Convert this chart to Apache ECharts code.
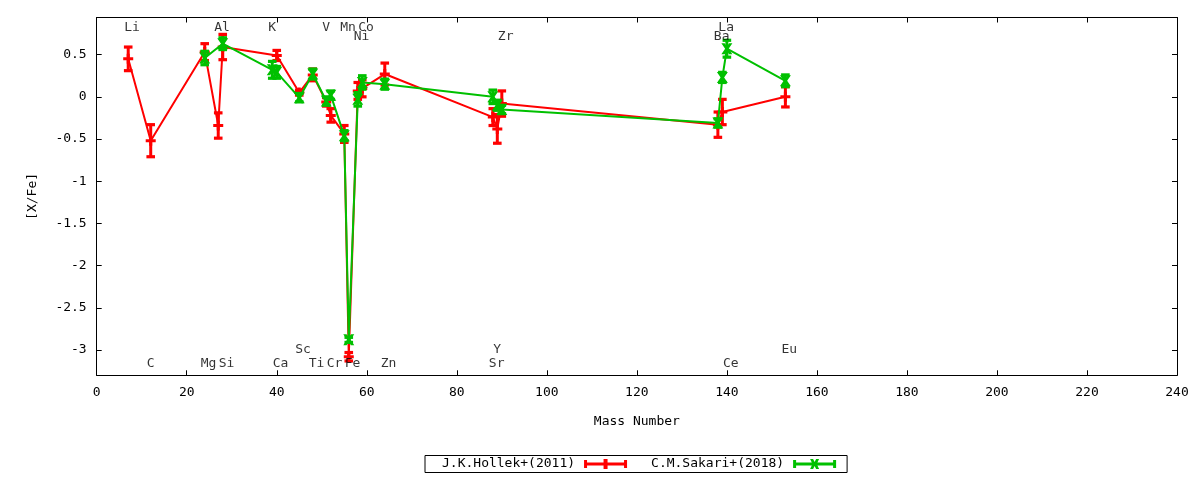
<!DOCTYPE html>
<html>
<head>
<meta charset="utf-8">
<script src="https://cdn.jsdelivr.net/npm/echarts@6/dist/echarts.min.js"></script>
<style>html,body{margin:0;padding:0;background:#fff}#c{width:1200px;height:480px}</style>
</head>
<body>
<div id="c"></div>
<script>
// ---- data ----
const hollekName = 'J.K.Hollek+(2011)';
const hollekMass = [7, 12, 24, 27, 28, 40, 45, 48, 51, 52, 55, 56, 58, 59, 64, 88, 89, 90, 138, 139, 153];
const hollekXFe  = [0.45, -0.52, 0.53, -0.34, 0.59, 0.49, 0.05, 0.26, -0.06, -0.22, -0.44, -3.08, 0.07, 0.10, 0.27, -0.24, -0.38, -0.08, -0.33, -0.18, 0.00];
const hollekErr  = [0.14, 0.19, 0.10, 0.15, 0.15, 0.06, 0.03, 0.07, 0.05, 0.08, 0.10, 0.05, 0.10, 0.10, 0.13, 0.10, 0.17, 0.15, 0.15, 0.15, 0.12];

const sakariName = 'C.M.Sakari+(2018)';
const sakariMass = [24, 28, 39, 40, 45, 48, 51, 52, 55, 56, 58, 59, 64, 88, 89, 90, 138, 139, 140, 153];
const sakariXFe  = [0.46, 0.63, 0.32, 0.29, -0.01, 0.27, -0.05, 0.02, -0.46, -2.88, -0.03, 0.17, 0.15, 0.00, -0.10, -0.15, -0.31, 0.23, 0.57, 0.19];
const sakariErr  = [0.08, 0.07, 0.10, 0.07, 0.05, 0.06, 0.05, 0.05, 0.06, 0.03, 0.08, 0.08, 0.06, 0.08, 0.06, 0.05, 0.05, 0.06, 0.10, 0.07];

const elementNames  = ['Li', 'C', 'Mg', 'Al', 'Si', 'K', 'Ca', 'Sc', 'Ti', 'V', 'Cr', 'Mn', 'Fe', 'Ni', 'Co', 'Zn', 'Sr', 'Y', 'Zr', 'Ba', 'La', 'Ce', 'Eu'];
const elementMass   = [7, 12, 24, 27, 28, 39, 40, 45, 48, 51, 52, 55, 56, 58, 59, 64, 88, 89, 90, 138, 139, 140, 153];
const elementLabelY = [0.82, -3.165, -3.165, 0.82, -3.165, 0.82, -3.165, -3.0, -3.165, 0.82, -3.165, 0.82, -3.165, 0.71, 0.82, -3.165, -3.165, -3.0, 0.71, 0.71, 0.82, -3.165, -3.0];

const xTicks = [0, 20, 40, 60, 80, 100, 120, 140, 160, 180, 200, 220, 240];
const yTicks = [0.5, 0, -0.5, -1, -1.5, -2, -2.5, -3];

// ---- styling ----
const FONT = '"DejaVu Sans Mono", monospace';
const RED = '#ff0000';
const GREEN = '#00c000';
const PLUS = 'path://M3.5,0h3v3.5h3.5v3h-3.5v3.5h-3v-3.5h-3.5v-3h3.5z';
const CROSS = 'path://M0,0L3,0L5,3L7,0L10,0L6.6,5L10,10L7,10L5,7L3,10L0,10L3.4,5Z';
const ICON_RED = 'path://M0,1h3v8h-3z M3,3.5h37v3h-37z M40,1h3v8h-3z M19.5,0h4v10h-4z';
const ICON_GREEN = 'path://M0,1h3v8h-3z M3,3.5h37v3h-37z M40,1h3v8h-3z M17,0L20,0L21.5,3L23,0L26,0L23.6,5L26,10L23,10L21.5,7L20,10L17,10L19.4,5Z';

function errRender(params, api) {
  const x = api.value(0), y = api.value(1), e = api.value(2);
  const lo = api.coord([x, y - e]);
  const hi = api.coord([x, y + e]);
  const c = api.visual('color');
  const w = 4.3;
  return {
    type: 'group',
    children: [
      { type: 'line', shape: { x1: lo[0], y1: lo[1], x2: hi[0], y2: hi[1] }, style: { stroke: c, lineWidth: 3 } },
      { type: 'line', shape: { x1: lo[0] - w, y1: lo[1], x2: lo[0] + w, y2: lo[1] }, style: { stroke: c, lineWidth: 3.2 } },
      { type: 'line', shape: { x1: hi[0] - w, y1: hi[1], x2: hi[0] + w, y2: hi[1] }, style: { stroke: c, lineWidth: 3.2 } }
    ]
  };
}

const axisText = { fontFamily: FONT, fontSize: 13, color: '#000' };
const axisLine = { show: true, onZero: false, lineStyle: { color: '#000', width: 1 } };
const tickStyle = (vals) => ({ show: true, inside: true, length: 5, lineStyle: { color: '#000' }, customValues: vals });

const chart = echarts.init(document.getElementById('c'), null, { renderer: 'canvas' });
chart.setOption({
  animation: false,
  backgroundColor: '#fff',
  grid: { left: 96.7, right: 23, top: 17.5, bottom: 104.7, containLabel: false },
  legend: {
    data: [{ name: hollekName, icon: ICON_RED }, { name: sakariName, icon: ICON_GREEN }],
    left: 425, top: 455.5,
    align: 'right',
    itemWidth: 43, itemHeight: 10, itemGap: 24,
    borderColor: '#000', borderWidth: 1, borderRadius: 0,
    padding: [2, 11, 2, 17],
    itemStyle: { borderWidth: 0 },
    textStyle: { fontFamily: FONT, fontSize: 13, color: '#000', padding: [0, 4, 0, 0] },
    selectedMode: false
  },
  xAxis: [{
    type: 'value', min: 0, max: 240, interval: 20,
    name: 'Mass Number', nameLocation: 'middle', nameGap: 40,
    nameTextStyle: axisText,
    axisLine: axisLine,
    axisTick: tickStyle(xTicks),
    axisLabel: { ...axisText, margin: 11, customValues: xTicks },
    splitLine: { show: false }
  }, {
    type: 'value', min: 0, max: 240, interval: 20, position: 'top',
    axisLine: axisLine,
    axisTick: tickStyle(xTicks),
    axisLabel: { show: false },
    splitLine: { show: false }
  }],
  yAxis: [{
    type: 'value', min: -3.3, max: 0.94, position: 'left',
    name: '[X/Fe]', nameLocation: 'middle', nameGap: 58, nameRotate: 90,
    nameTextStyle: axisText,
    axisLine: axisLine,
    axisTick: tickStyle(yTicks),
    axisLabel: { ...axisText, margin: 10, customValues: yTicks, formatter: v => String(v) },
    splitLine: { show: false }
  }, {
    type: 'value', min: -3.3, max: 0.94, position: 'right',
    axisLine: axisLine,
    axisTick: tickStyle(yTicks),
    axisLabel: { show: false },
    splitLine: { show: false }
  }],
  series: [
    {
      name: hollekName, type: 'custom', renderItem: errRender,
      itemStyle: { color: RED },
      encode: { x: 0, y: 1 },
      data: hollekMass.map((m, i) => [m, hollekXFe[i], hollekErr[i]]),
      z: 2
    },
    {
      name: hollekName, type: 'line',
      data: hollekMass.map((m, i) => [m, hollekXFe[i]]),
      symbol: PLUS, symbolSize: 10, showAllSymbol: true,
      itemStyle: { color: RED, borderWidth: 0 },
      lineStyle: { color: RED, width: 2 },
      z: 3
    },
    {
      name: sakariName, type: 'custom', renderItem: errRender,
      itemStyle: { color: GREEN },
      encode: { x: 0, y: 1 },
      data: sakariMass.map((m, i) => [m, sakariXFe[i], sakariErr[i]]),
      z: 4
    },
    {
      name: sakariName, type: 'line',
      data: sakariMass.map((m, i) => [m, sakariXFe[i]]),
      symbol: CROSS, symbolSize: 11, showAllSymbol: true,
      itemStyle: { color: GREEN, borderWidth: 0 },
      lineStyle: { color: GREEN, width: 2 },
      z: 5
    },
    {
      name: 'labels', type: 'scatter',
      data: elementMass.map((m, i) => [m, elementLabelY[i], elementNames[i]]),
      symbolSize: 0.01,
      itemStyle: { color: 'rgba(0,0,0,0)' },
      label: {
        show: true, position: 'inside', align: 'left', verticalAlign: 'middle',
        offset: [-4, 0],
        formatter: p => p.value[2],
        fontFamily: FONT, fontSize: 13, color: '#000'
      },
      silent: true, z: 6
    }
  ]
});
</script>
</body>
</html>
